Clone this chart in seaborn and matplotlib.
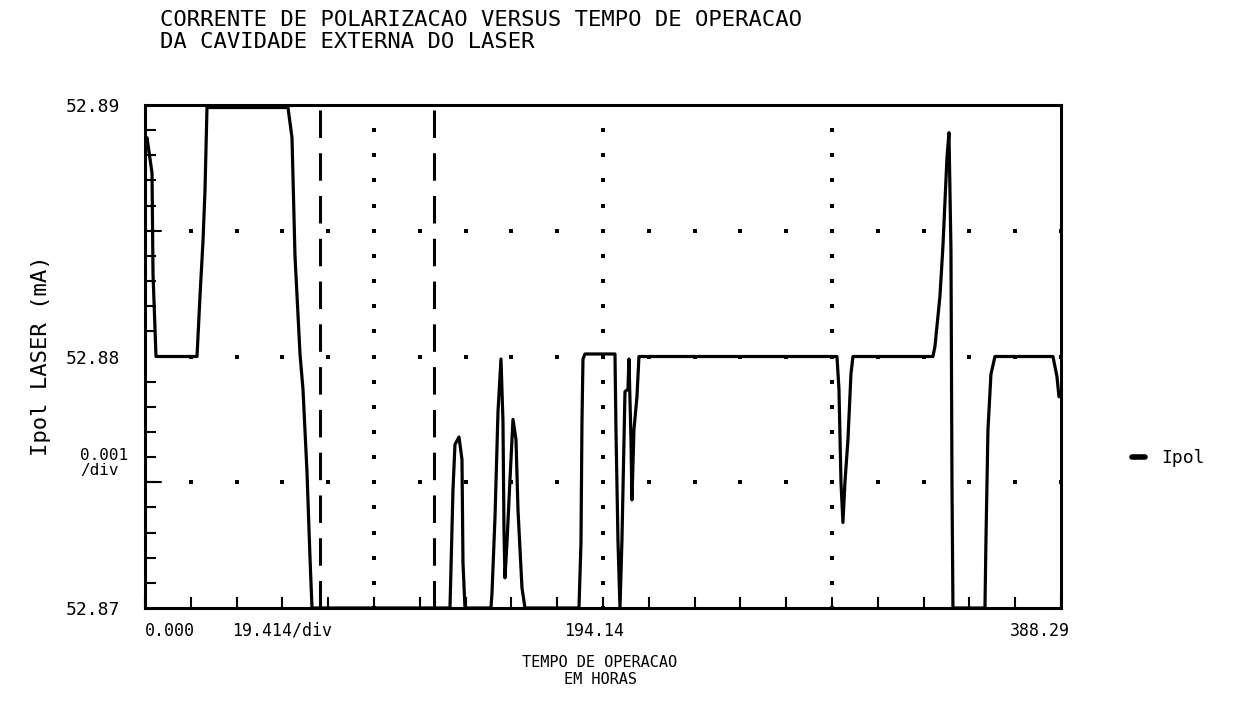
import numpy as np
import pandas as pd
import matplotlib
matplotlib.use("Agg")
import matplotlib.pyplot as plt
from matplotlib.transforms import ScaledTranslation
import seaborn as sns

# ---------------- data ----------------
time_h = [0.42, 0.85, 2.97, 3.39, 4.66, 22.04, 22.47, 23.31, 24.59, 25.43, 26.28,
          60.61, 62.31, 63.58, 65.70, 66.97, 68.67, 69.94, 70.79,
          129.28, 130.55, 131.40, 133.10, 134.37, 134.79, 135.64,
          146.66, 147.09, 148.36, 149.63, 150.90, 151.75, 152.17, 152.59, 153.44,
          154.71, 155.99, 157.26, 158.11, 159.80, 161.07,
          183.96, 184.81, 185.23, 185.66, 186.50, 199.22, 199.64, 200.49, 201.34,
          202.18, 203.46, 204.73, 205.15, 206.00, 206.42, 207.27, 208.54, 209.39,
          293.32, 294.17, 295.02, 295.86, 296.71, 297.98, 299.25, 300.10,
          334.01, 334.86, 336.98, 338.25, 339.95, 340.80, 341.65, 342.07, 342.49,
          356.06, 356.48, 357.33, 358.60, 360.29, 384.88, 386.58, 387.43]
ipol_ma = [52.8886, 52.8887, 52.8873, 52.8833, 52.8800, 52.8800, 52.8808, 52.8824, 52.8846, 52.8866, 52.8899,
           52.8899, 52.8887, 52.8840, 52.8801, 52.8787, 52.8754, 52.8720, 52.8700,
           52.8700, 52.8747, 52.8765, 52.8768, 52.8759, 52.8718, 52.8700,
           52.8700, 52.8706, 52.8736, 52.8778, 52.8799, 52.8774, 52.8731, 52.8712, 52.8726,
           52.8751, 52.8775, 52.8767, 52.8739, 52.8708, 52.8700,
           52.8700, 52.8726, 52.8774, 52.8799, 52.8801, 52.8801, 52.8771, 52.8727, 52.8700,
           52.8727, 52.8786, 52.8787, 52.8799, 52.8767, 52.8743, 52.8771, 52.8784, 52.8800,
           52.8800, 52.8787, 52.8750, 52.8734, 52.8750, 52.8767, 52.8793, 52.8800,
           52.8800, 52.8804, 52.8824, 52.8844, 52.8879, 52.8889, 52.8842, 52.8750, 52.8700,
           52.8700, 52.8727, 52.8771, 52.8793, 52.8800, 52.8800, 52.8792, 52.8784]

marker_times = [74.2, 122.5]          # dashed cursor lines
x_min, x_max = 0.0, 388.29
y_min, y_max = 52.87, 52.89
x_div = 19.414
y_div = 0.001
x_tick_labels = ["0.000", "19.414/div", "194.14", "388.29"]
y_tick_labels = ["52.87", "52.88", "52.89"]
title_text = "CORRENTE DE POLARIZACAO VERSUS TEMPO DE OPERACAO\nDA CAVIDADE EXTERNA DO LASER"
xlabel_text = "TEMPO DE OPERACAO\nEM HORAS"
ylabel_text = "Ipol LASER (mA)"
series_name = "Ipol"

# ---------------- style ----------------
sns.set_style("white")
plt.rcParams['font.family'] = ['DejaVu Sans Mono', 'DejaVu Sans']
for k in ('text.color', 'axes.labelcolor', 'xtick.color', 'ytick.color'):
    plt.rcParams[k] = 'black'

fig = plt.figure(figsize=(12.58, 7.07), dpi=100)
ax = fig.add_axes([145/1258, 1-608/707, 916/1258, 503/707])

df = pd.DataFrame({"t": time_h, "ipol": ipol_ma, "serie": series_name})
sns.lineplot(data=df, x="t", y="ipol", hue="serie", palette=["black"],
             sort=False, estimator=None, linewidth=2.3, ax=ax)

ax.set_xlim(x_min, x_max)
ax.set_ylim(y_min, y_max)

# dotted grid: a dot at every division along lines every 5 divisions
n_xdiv = int(round((x_max - x_min) / x_div))
n_ydiv = int(round((y_max - y_min) / y_div))
xs_div = x_min + np.arange(n_xdiv + 1) * x_div
ys_div = y_min + np.arange(n_ydiv + 1) * y_div
for k in (5, 10, 15):
    ax.plot(xs_div, np.full_like(xs_div, y_min + k * y_div), ls='none',
            marker='s', ms=2.5, mew=0, color='black', zorder=1)
    ax.plot(np.full_like(ys_div, x_min + k * x_div), ys_div, ls='none',
            marker='s', ms=2.5, mew=0, color='black', zorder=1)

# dashed cursor lines
for mt in marker_times:
    ax.axvline(mt, color='black', lw=2.2, dashes=(9, 5), zorder=1)

# spines
for s in ax.spines.values():
    s.set_linewidth(2.2)
    s.set_color('black')

# ticks
ax.set_xticks([x_min, x_min + 3 * x_div, x_min + 10 * x_div, x_max])
ax.set_xticklabels(x_tick_labels)
ax.set_xticks(xs_div, minor=True)
ax.set_yticks([y_min, (y_min + y_max) / 2, y_max])
ax.set_yticklabels(y_tick_labels)
ax.set_yticks(ys_div, minor=True)
ax.tick_params(axis='x', which='both', direction='in', length=8, width=1.5,
               pad=10, labelsize=12, bottom=True)
ax.tick_params(axis='y', which='minor', direction='in', length=8, width=1.5, left=True)
ax.tick_params(axis='y', which='major', direction='in', length=0, width=1.5,
               pad=18, labelsize=13, left=True)
# longer ticks at half-scale divisions
ax.plot([x_min, x_min + 0.35 * x_div], [y_min + 5 * y_div] * 2, color='black', lw=1.5, zorder=1)
ax.plot([x_min, x_min + 0.35 * x_div], [y_min + 15 * y_div] * 2, color='black', lw=1.5, zorder=1)

xl = ax.get_xticklabels()
xl[0].set_ha('left')
xl[-1].set_ha('right')
xl[2].set_transform(xl[2].get_transform() + ScaledTranslation(-9/100, 0, fig.dpi_scale_trans))
xl[-1].set_transform(xl[-1].get_transform() + ScaledTranslation(9/100, 0, fig.dpi_scale_trans))

ax.set_xlabel("")
ax.set_ylabel("")

ax.text(-65/916, (607-462)/503, "0.001\n/div", transform=ax.transAxes,
        ha='left', va='center', fontsize=11.5, linespacing=1.0)

fig.text(160/1258, 1-10/707, title_text, ha='left', va='top', fontsize=16,
         linespacing=1.1)
fig.text(600/1258, 1-655/707, xlabel_text, ha='center', va='top', fontsize=11,
         linespacing=1.2)
fig.text(41/1258, 1-356/707, ylabel_text, rotation=90, ha='center', va='center',
         fontsize=16)

leg = ax.legend(loc='center left', bbox_to_anchor=(1116/1258, 1-458/707),
                bbox_transform=fig.transFigure, frameon=False, handlelength=0.7,
                handletextpad=0.9, fontsize=13)
for h in leg.get_lines():
    h.set_linewidth(4)

fig.savefig("out.png", dpi=100, facecolor='white')
